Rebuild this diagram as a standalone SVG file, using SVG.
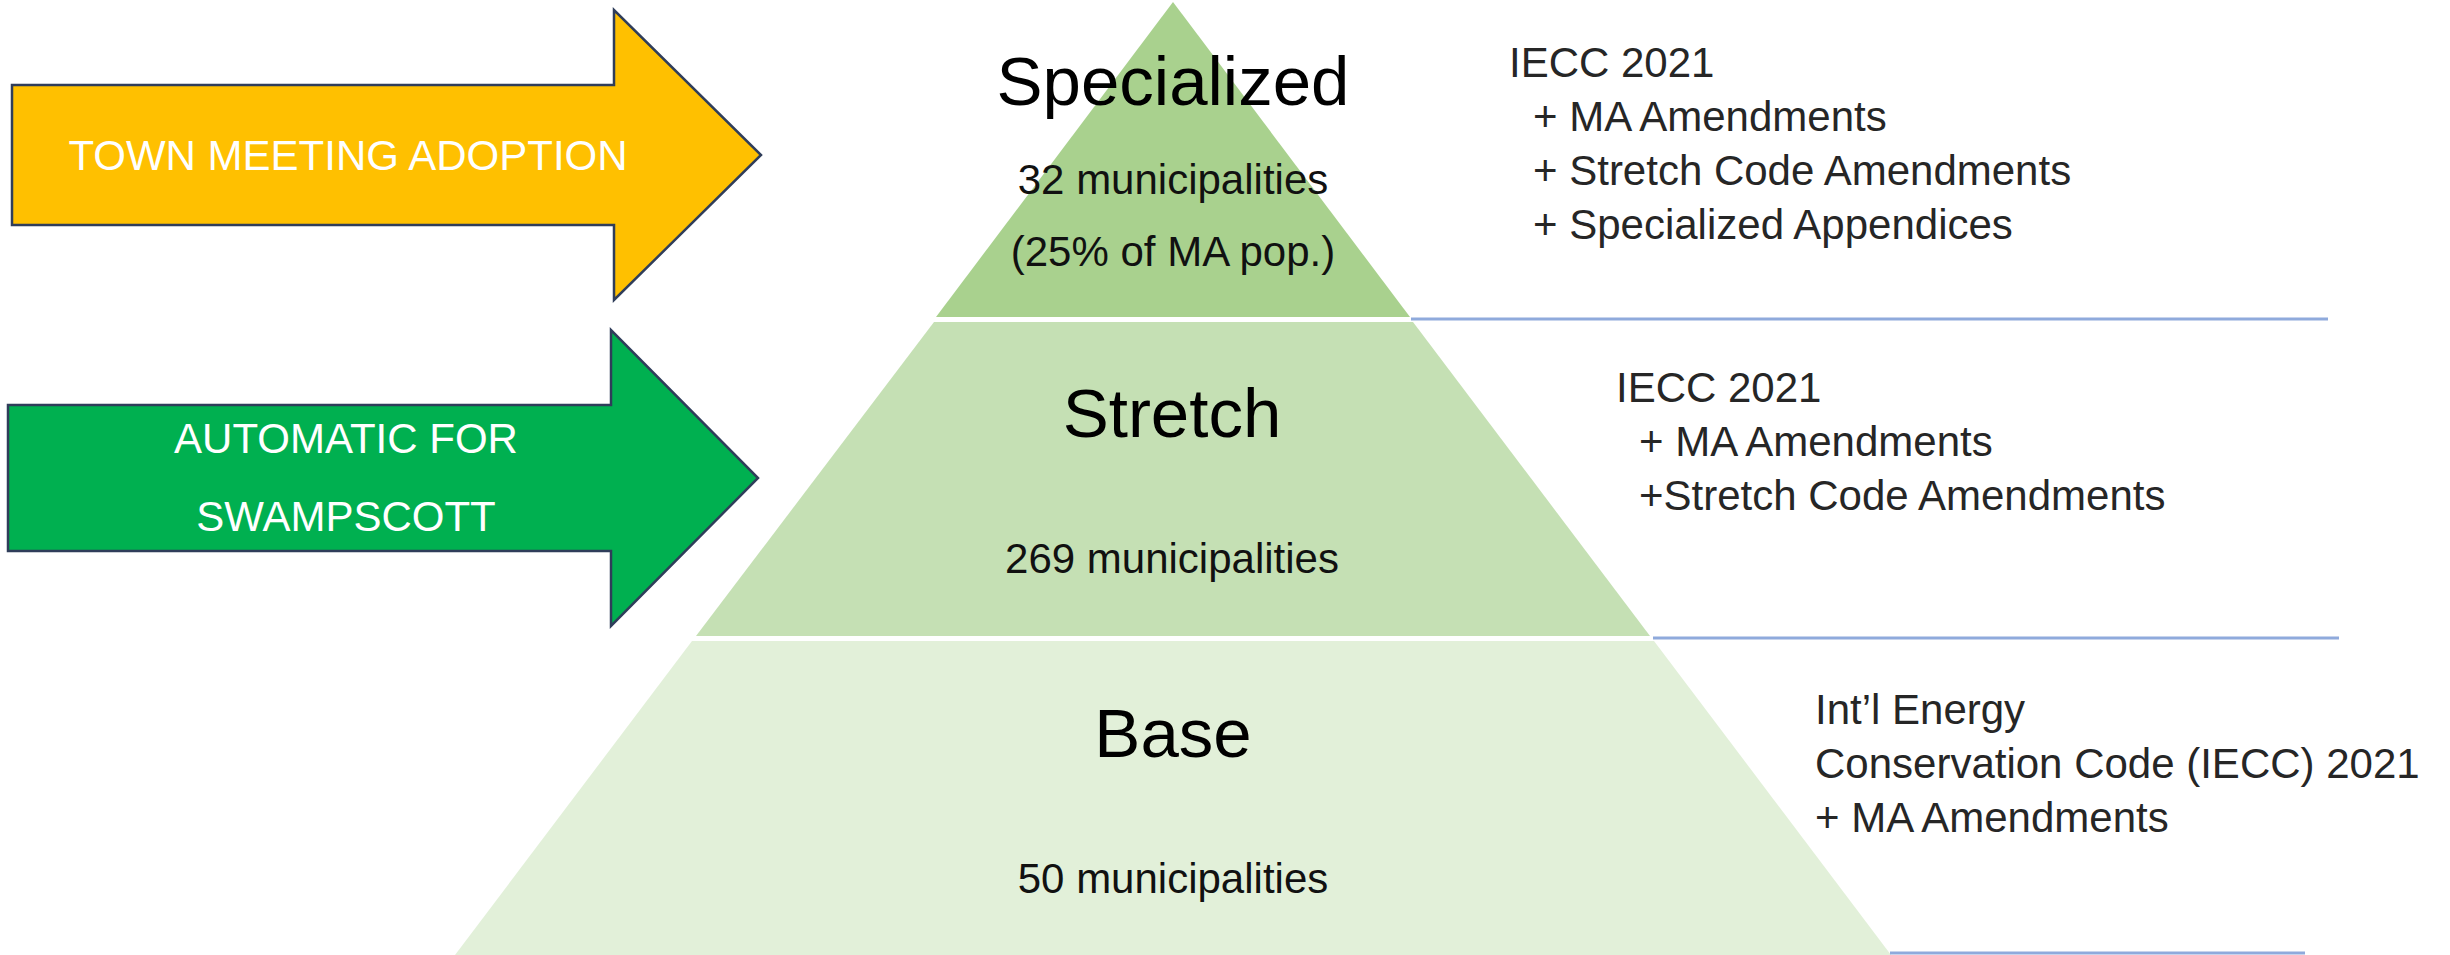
<svg xmlns="http://www.w3.org/2000/svg" width="2450" height="955" viewBox="0 0 2450 955">
  <style>
    text { font-family: "Liberation Sans", Arial, Helvetica, sans-serif; }
    .arrow { stroke: #2f3d5a; stroke-width: 2.5; stroke-linejoin: miter; }
    .arrow-label { fill: #ffffff; font-size: 42px; text-anchor: middle; }
    .tier-title { fill: #000000; font-size: 69px; text-anchor: middle; }
    .tier-count { fill: #111111; font-size: 42px; text-anchor: middle; }
    .code-text { fill: #262626; font-size: 42px; }
    .divider { stroke: #8faadc; stroke-width: 3; fill: none; }
  </style>

  <rect width="2450" height="955" fill="#ffffff"/>

  <!-- Adoption arrows -->
  <g id="arrow-town-meeting">
    <polygon class="arrow" fill="#ffc000" points="12,85 614,85 614,10 761,155 614,300 614,225 12,225"/>
    <text class="arrow-label" x="348" y="170">TOWN MEETING ADOPTION</text>
  </g>

  <g id="arrow-automatic">
    <polygon class="arrow" fill="#00b050" points="8,405 611,405 611,330 758,478 611,626 611,551 8,551"/>
    <text class="arrow-label" x="346" y="453">AUTOMATIC FOR</text>
    <text class="arrow-label" x="346" y="531">SWAMPSCOTT</text>
  </g>

  <!-- Pyramid tiers -->
  <g id="tier-specialized">
    <polygon fill="#a9d18e" points="1173,2 1410,317 936,317"/>
    <text class="tier-title" x="1173" y="105">Specialized</text>
    <text class="tier-count" x="1173" y="194">32 municipalities</text>
    <text class="tier-count" x="1173" y="266">(25% of MA pop.)</text>
  </g>

  <g id="tier-stretch">
    <polygon fill="#c5e0b4" points="934,322 1413,322 1650,636 696,636"/>
    <text class="tier-title" x="1172" y="437">Stretch</text>
    <text class="tier-count" x="1172" y="573">269 municipalities</text>
  </g>

  <g id="tier-base">
    <polygon fill="#e2f0d9" points="692,641 1654,641 1891,955 455,955"/>
    <text class="tier-title" x="1173" y="757">Base</text>
    <text class="tier-count" x="1173" y="893">50 municipalities</text>
  </g>

  <!-- Tier dividers extending to the code descriptions -->
  <g id="connectors">
    <line class="divider" x1="1411" y1="319" x2="2328" y2="319"/>
    <line class="divider" x1="1653" y1="638" x2="2339" y2="638"/>
    <line class="divider" x1="1890" y1="953" x2="2305" y2="953"/>
  </g>

  <!-- Code descriptions per tier -->
  <g id="code-specialized">
    <text class="code-text" x="1509" y="77">IECC 2021</text>
    <text class="code-text" x="1533" y="131">+ MA Amendments</text>
    <text class="code-text" x="1533" y="185">+ Stretch Code Amendments</text>
    <text class="code-text" x="1533" y="239">+ Specialized Appendices</text>
  </g>

  <g id="code-stretch">
    <text class="code-text" x="1616" y="402">IECC 2021</text>
    <text class="code-text" x="1639" y="456">+ MA Amendments</text>
    <text class="code-text" x="1639" y="510">+Stretch Code Amendments</text>
  </g>

  <g id="code-base">
    <text class="code-text" x="1815" y="724">Int’l Energy</text>
    <text class="code-text" x="1815" y="778">Conservation Code (IECC) 2021</text>
    <text class="code-text" x="1815" y="832">+ MA Amendments</text>
  </g>
</svg>
